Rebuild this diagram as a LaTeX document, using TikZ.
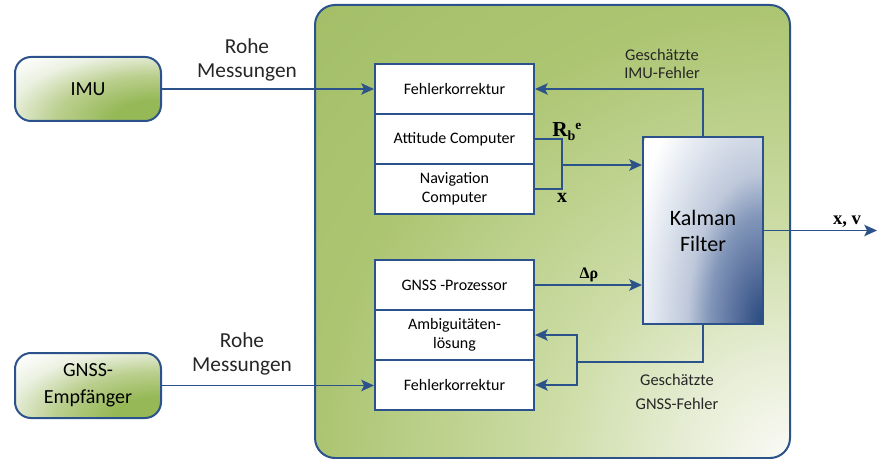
\documentclass[tikz,border=0pt]{standalone}
\usepackage{fontspec}
\setmainfont{Carlito}
\newfontfamily\tnr{Liberation Serif}
\usetikzlibrary{arrows.meta}
\definecolor{lineblue}{RGB}{44,82,140}
\definecolor{bgw}{RGB}{250,250,246}
\definecolor{bgl}{RGB}{232,238,215}
\definecolor{bgm}{RGB}{204,220,165}
\definecolor{bgg}{RGB}{172,197,114}
\definecolor{bgg2}{RGB}{164,191,104}
\definecolor{kd}{RGB}{40,72,125}
\definecolor{k1}{RGB}{95,118,162}
\definecolor{k2}{RGB}{130,150,185}
\definecolor{k3}{RGB}{190,200,218}
\definecolor{k4}{RGB}{224,230,239}
\definecolor{gd}{RGB}{150,184,86}
\definecolor{gm}{RGB}{186,207,142}
\definecolor{gl}{RGB}{236,241,226}
\pgfdeclareradialshading{bigc}{\pgfpointorigin}{color(0bp)=(bgw); color(3.5bp)=(bgl); color(8.5bp)=(bgm); color(16.5bp)=(bgg); color(23.5bp)=(bgg2); color(50bp)=(bgg2)}
\pgfdeclareradialshading{kalc}{\pgfpointorigin}{color(0bp)=(kd); color(5.4bp)=(k1); color(9bp)=(k2); color(12.6bp)=(k3); color(18bp)=(k4); color(23bp)=(white); color(50bp)=(white)}
\pgfdeclareradialshading{srcc}{\pgfpointorigin}{color(0bp)=(gd); color(5.5bp)=(gd); color(12bp)=(gm); color(18bp)=(gl); color(23bp)=(white); color(50bp)=(white)}
\tikzset{
  line/.style={draw=lineblue, line width=1.2pt},
  arr/.style={line, -{Stealth[length=9.5pt,width=8.5pt,inset=2pt]}},
  src/.style={draw=lineblue, line width=1.5pt, rounded corners=12pt,
    path picture={\shade[shading=srcc] (path picture bounding box.south east) ellipse [x radius=164pt, y radius=72pt];},
    minimum width=109.5pt, minimum height=48pt, align=center, font=\fontsize{15}{20}\selectfont},
  blk/.style={draw=lineblue, line width=1.5pt, fill=white, minimum width=119.25pt,
    minimum height=37.5pt, align=center, font=\fontsize{12}{14.25}\selectfont, inner sep=0pt},
  lbl/.style={align=center, text=black!85, inner sep=0pt},
  mathlbl/.style={inner sep=0pt, font=\tnr\bfseries}
}
\begin{document}
\begin{tikzpicture}[x=0.75pt,y=-0.75pt]
\useasboundingbox (0,0) rectangle (877,459);
% container
\node[draw=lineblue, line width=1.5pt, rounded corners=15pt,
  path picture={\shade[shading=bigc] (path picture bounding box.south east) ellipse [x radius=534pt, y radius=510pt];},
  minimum width=356.25pt, minimum height=339.75pt] (main) at (552.5,231.5) {};
% sources
\node[src] (imu) at (88,89) {IMU};
\node[src, minimum height=48.75pt] (gnss) at (88,385.5) {GNSS-\\Empfänger};
% upper blocks
\node[blk] (fk1) at (454.5,89) {Fehlerkorrektur};
\node[blk] (att) at (454.5,139) {Attitude Computer};
\node[blk] (nav) at (454.5,189) {Navigation\\Computer};
% lower blocks
\node[blk] (gp) at (454.5,285) {GNSS -Prozessor};
\node[blk] (amb) at (454.5,335) {Ambiguitäten-\\lösung};
\node[blk] (fk2) at (454.5,385) {Fehlerkorrektur};
% Kalman
\node[draw=lineblue, line width=1.5pt,
  path picture={\shade[shading=kalc] (path picture bounding box.south east) ellipse [x radius=112.5pt, y radius=225pt];},
  minimum width=90pt, minimum height=140.25pt, align=center,
  font=\fontsize{16.5}{19.5}\selectfont] (kal) at (703,230.5) {Kalman\\Filter};
% labels
\node[lbl, font=\fontsize{16}{18}\selectfont] (l1) at (247,60) {Rohe\\Messungen};
\node[lbl, font=\fontsize{16}{18}\selectfont] (l2) at (242,353.5) {Rohe\\Messungen};
\node[lbl, font=\fontsize{12.3}{13.5}\selectfont] (l3) at (662,64) {Geschätzte\\IMU-Fehler};
\node[lbl, font=\fontsize{12.3}{13.5}\selectfont] (l4) at (677,380) {Geschätzte};
\node[lbl, font=\fontsize{12.3}{13.5}\selectfont] (l5) at (677,404) {GNSS-Fehler};
\node[mathlbl, anchor=base west, font=\tnr\bfseries\fontsize{16}{17}\selectfont] (rbe) at (552,137) {R\raisebox{-0.35ex}{\fontsize{10.5}{11}\selectfont b}\raisebox{0.8ex}{\fontsize{10}{11}\selectfont e}};
\node[mathlbl, anchor=base, font=\tnr\bfseries\fontsize{15}{16}\selectfont] (xl) at (562,203) {x};
\node[mathlbl, anchor=base, font=\tnr\bfseries\fontsize{12}{13}\selectfont] (dr) at (589,279) {Δρ};
\node[mathlbl, anchor=base, font=\tnr\bfseries\fontsize{14}{15}\selectfont] (xv) at (847,225) {x, v};
% coordinates
\coordinate (b) at (562,165);
\coordinate (j) at (577,362);
\coordinate (out) at (877,230.5);
% connectors
\draw[arr] (imu.east) -- (fk1.west);
\draw[arr] (gnss.east) -- (gnss.east -| fk2.west);
\draw[arr] (kal.north) |- (fk1.east);
\draw[line] (att.east) -| (b) |- (nav.east);
\draw[arr] (b) -- (b -| kal.west);
\draw[arr] (gp.east) -- (gp.east -| kal.west);
\draw[line] (kal.south) |- (j);
\draw[arr] (j) |- (amb.east);
\draw[arr] (j) |- (fk2.east);
\draw[arr] (kal.east) -- (out);
\end{tikzpicture}
\end{document}
